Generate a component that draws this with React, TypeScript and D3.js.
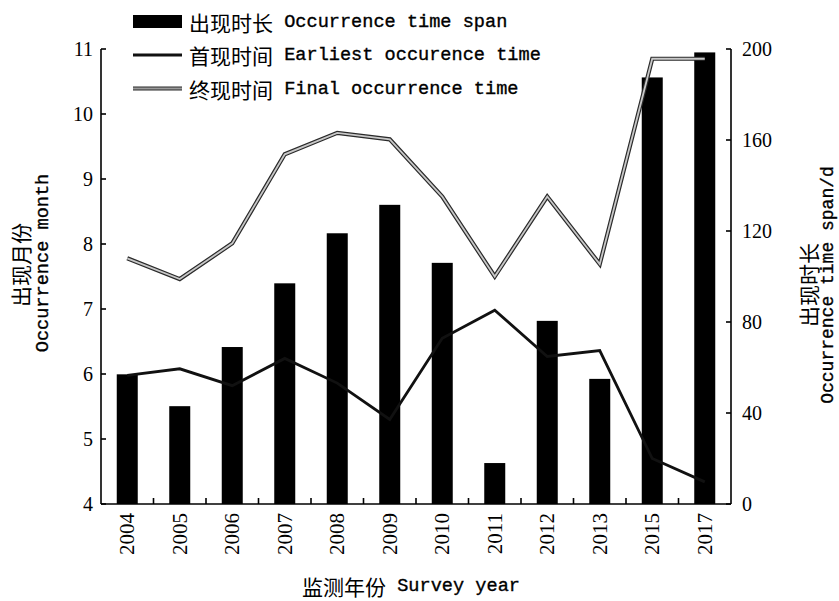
import React from "react";
import * as d3 from "d3";

const years = ["2004","2005","2006","2007","2008","2009","2010","2011","2012","2013","2015","2017"];
const spanDays = [57, 43, 69, 97, 119, 131.5, 106, 18, 80.5, 55, 187.5, 198.5];
const earliestMonth = [5.98, 6.08, 5.82, 6.24, 5.86, 5.30, 6.55, 6.98, 6.27, 6.36, 4.70, 4.34];
const finalMonth = [7.78, 7.46, 8.01, 9.38, 9.71, 9.61, 8.73, 7.50, 8.73, 7.69, 10.85, 10.85];
const leftTicks = [4, 5, 6, 7, 8, 9, 10, 11];
const rightTicks = [0, 40, 80, 120, 160, 200];

const W = 839, H = 601;
const M = { left: 101, right: 731, top: 49, bottom: 504 };
const CJK = '"Noto Sans CJK SC", sans-serif';
const MONO = '"Liberation Mono", "DejaVu Sans Mono", monospace';
const SERIF = '"Liberation Serif", "Times New Roman", serif';

function MixedText({ x, y, cn, en, rotate, anchor = "start", enSize = 18.6 }: any) {
  return (
    <text
      x={x}
      y={y}
      textAnchor={anchor}
      dominantBaseline="central"
      transform={rotate ? `rotate(-90 ${x} ${y})` : undefined}
      fill="#000"
    >
      {cn ? <tspan fontFamily={CJK} fontSize={21}>{cn}</tspan> : null}
      {en ? (
        <tspan fontFamily={MONO} fontSize={enSize} stroke="#000" strokeWidth={0.35}>
          {(cn ? " " : "") + en}
        </tspan>
      ) : null}
    </text>
  );
}

export default function App() {
  const xb = d3.scaleBand<string>().domain(years).range([M.left, M.right]);
  const yL = d3.scaleLinear().domain([4, 11]).range([M.bottom, M.top]);
  const yR = d3.scaleLinear().domain([0, 200]).range([M.bottom, M.top]);
  const cx = (y: string) => (xb(y) as number) + xb.bandwidth() / 2;

  const line = d3.line<number>().x((_, i) => cx(years[i])).y((v) => yL(v));
  const earliestPath = line(earliestMonth) || "";
  const finalPath = line(finalMonth) || "";

  return (
    <div style={{ position: "absolute", left: 0, top: 0 }}>
      <svg width={W} height={H} viewBox={`0 0 ${W} ${H}`} style={{ display: "block", background: "#fff" }}>
        <rect x={0} y={0} width={W} height={H} fill="#fff" />
        {/* bars */}
        {years.map((yr, i) => {
          const bw = xb.bandwidth() * 0.4;
          return (
            <rect
              key={yr}
              x={cx(yr) - bw / 2}
              y={yR(spanDays[i])}
              width={bw}
              height={yR(0) - yR(spanDays[i])}
              fill="#000"
            />
          );
        })}
        {/* final occurrence line (double) */}
        <path d={finalPath} fill="none" stroke="#2a2a2a" strokeWidth={4.2} strokeLinejoin="miter" />
        <path d={finalPath} fill="none" stroke="#c8c8c8" strokeWidth={1.8} strokeLinejoin="miter" />
        {/* earliest line */}
        <path d={earliestPath} fill="none" stroke="#111" strokeWidth={2.8} strokeLinejoin="miter" />

        {/* axes */}
        <g stroke="#000" strokeWidth={1.6} fill="none">
          <line x1={M.left} y1={M.top} x2={M.left} y2={M.bottom} />
          <line x1={M.right} y1={M.top} x2={M.right} y2={M.bottom} />
          <line x1={M.left} y1={M.bottom} x2={M.right} y2={M.bottom} />
          {leftTicks.map((t) => (
            <line key={"l" + t} x1={M.left} x2={M.left + 5} y1={yL(t)} y2={yL(t)} />
          ))}
          {rightTicks.map((t) => (
            <line key={"r" + t} x1={M.right} x2={M.right - 5} y1={yR(t)} y2={yR(t)} />
          ))}
          {years.slice(1).map((yr) => (
            <line key={"b" + yr} x1={xb(yr)} x2={xb(yr)} y1={M.bottom} y2={M.bottom - 6} />
          ))}
        </g>
        {/* tick labels */}
        <g fontFamily={SERIF} fontSize={20} fill="#000">
          {leftTicks.map((t) => (
            <text key={"lt" + t} x={M.left - 8} y={yL(t)} textAnchor="end" dominantBaseline="central">{t}</text>
          ))}
          {rightTicks.map((t) => (
            <text key={"rt" + t} x={M.right + 11} y={yR(t)} textAnchor="start" dominantBaseline="central">{t}</text>
          ))}
          {years.map((yr) => (
            <text
              key={"yt" + yr}
              x={cx(yr)}
              y={M.bottom + 9}
              textAnchor="end"
              dominantBaseline="central"
              fontSize={21}
              transform={`rotate(-90 ${cx(yr)} ${M.bottom + 9})`}
            >
              {yr}
            </text>
          ))}
        </g>

        {/* axis titles */}
        <MixedText x={20} y={265} cn="出现月份" rotate anchor="middle" />
        <MixedText x={43} y={263} en="Occurrence month" rotate anchor="middle" />
        <MixedText x={808} y={285} cn="出现时长" rotate anchor="middle" />
        <MixedText x={828} y={285} en="Occurrence time span/d" rotate anchor="middle" enSize={18} />
        <MixedText x={411} y={586} cn="监测年份" en="Survey year" anchor="middle" />

        {/* legend */}
        <rect x={133} y={15} width={49} height={13} fill="#000" />
        <line x1={133} x2={182} y1={55} y2={55} stroke="#111" strokeWidth={2.8} />
        <line x1={133} x2={182} y1={88.5} y2={88.5} stroke="#2a2a2a" strokeWidth={4.2} />
        <line x1={133} x2={182} y1={88.5} y2={88.5} stroke="#9a9a9a" strokeWidth={1.8} />
        <MixedText x={189} y={21.5} cn="出现时长" en="Occurrence time span" />
        <MixedText x={189} y={55} cn="首现时间" en="Earliest occurence time" />
        <MixedText x={189} y={89} cn="终现时间" en="Final occurrence time" />
      </svg>
    </div>
  );
}
